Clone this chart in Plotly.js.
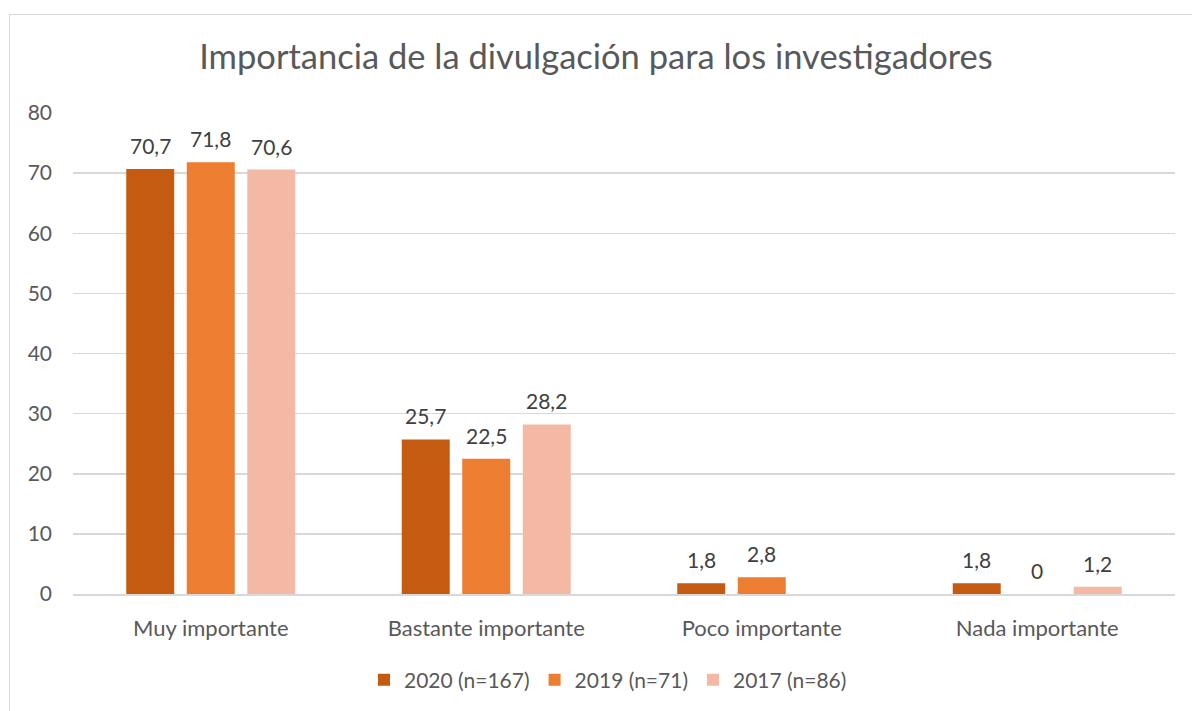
<!DOCTYPE html>
<html>
<head>
<meta charset="utf-8">
<script src="https://cdn.plot.ly/plotly-3.0.1.min.js"></script>
<style>
html,body{margin:0;padding:0;background:#fff;}
#chart{position:absolute;left:0;top:0;width:1192px;height:711px;}
#frame{position:absolute;left:9px;top:14px;width:1200px;height:720px;border:1px solid #d9d9d9;pointer-events:none;}
</style>
</head>
<body>
<div id="chart"></div>
<div id="frame"></div>
<script>
const categories = ["Muy importante", "Bastante importante", "Poco importante", "Nada importante"];
const seriesNames = ["2020 (n=167)", "2019 (n=71)", "2017 (n=86)"];
const values2020 = [70.7, 25.7, 1.8, 1.8];
const values2019 = [71.8, 22.5, 2.8, 0];
const values2017 = [70.6, 28.2, null, 1.2];
const colors = ["#C55A11", "#ED7D31", "#F4B9A5"];
const yTicks = [0, 10, 20, 30, 40, 50, 60, 70, 80];

const FONT = "Lato, 'Open Sans', sans-serif";
const fmt = v => String(v).replace(".", ",");

const W = 1192, H = 711;
const margin = {l: 73, r: 17, t: 113, b: 116};
const BARGAP = 0.341, BARGROUPGAP = 0.207;
const plotW = W - margin.l - margin.r;
const slot = plotW / categories.length * (1 - BARGAP) / 3;

const allValues = [values2020, values2019, values2017];
const traces = allValues.map((vals, i) => ({
  type: "bar",
  name: seriesNames[i],
  x: categories,
  y: vals,
  marker: {color: colors[i]},
  hoverinfo: "x+y+name"
}));

const annotations = [];
allValues.forEach((vals, i) => {
  vals.forEach((v, j) => {
    if (v === null) return;
    annotations.push({
      x: categories[j], y: v, xref: "x", yref: "y",
      text: fmt(v), showarrow: false,
      xanchor: "center", yanchor: "bottom",
      xshift: (i - 1) * slot, yshift: 9,
      font: {family: FONT, size: 21, color: "#404040"}
    });
  });
});

const layout = {
  width: W,
  height: H,
  margin: margin,
  paper_bgcolor: "#ffffff",
  plot_bgcolor: "#ffffff",
  font: {family: FONT, color: "#595959"},
  title: {
    text: "Importancia de la divulgación para los investigadores",
    font: {family: FONT, size: 34.5, color: "#595959"},
    x: 0.5, xanchor: "center",
    y: 1 - 57/711, yanchor: "middle", yref: "container"
  },
  barmode: "group",
  bargap: BARGAP,
  bargroupgap: BARGROUPGAP,
  xaxis: {
    type: "category",
    showgrid: false,
    showline: true,
    linecolor: "#d9d9d9",
    linewidth: 1.5,
    ticks: "",
    ticklabelstandoff: 14,
    tickfont: {family: FONT, size: 22, color: "#595959"},
    fixedrange: true
  },
  yaxis: {
    range: [0, 80],
    tickvals: yTicks,
    ticktext: yTicks.map(String),
    showgrid: true,
    gridcolor: "#d9d9d9",
    gridwidth: 1.5,
    zeroline: false,
    showline: false,
    ticks: "",
    ticklabelstandoff: 20,
    tickfont: {family: FONT, size: 21, color: "#595959"},
    fixedrange: true
  },
  annotations: annotations,
  showlegend: true,
  legend: {
    orientation: "h",
    x: (608 - margin.l) / plotW, xanchor: "center",
    y: -(680 - 595) / 482, yanchor: "middle",
    font: {family: FONT, size: 21, color: "#595959"},
    itemwidth: 30,
    traceorder: "normal"
  }
};

Plotly.newPlot("chart", traces, layout, {displayModeBar: false, staticPlot: true});
</script>
</body>
</html>
